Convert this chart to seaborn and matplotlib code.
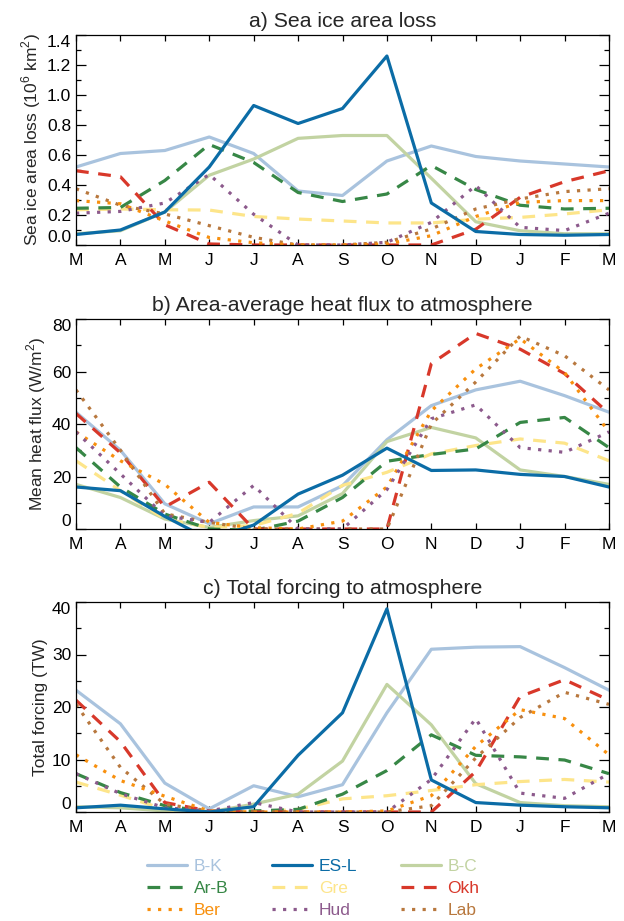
import matplotlib
matplotlib.use("Agg")
import matplotlib.pyplot as plt
from matplotlib.ticker import MultipleLocator
import seaborn as sns
import pandas as pd

months = ["M", "A", "M", "J", "J", "A", "S", "O", "N", "D", "J", "F", "M"]
regions = ["B-K", "ES-L", "B-C", "Ar-B", "Gre", "Okh", "Ber", "Hud", "Lab"]

# a) sea ice area loss (10^6 km^2)
ice_bk = [0.52, 0.61, 0.63, 0.72, 0.61, 0.36, 0.33, 0.56, 0.66, 0.59, 0.56, 0.54, 0.52]
ice_esl = [0.07, 0.10, 0.22, 0.52, 0.93, 0.81, 0.91, 1.26, 0.28, 0.09, 0.07, 0.065, 0.07]
ice_bc = [0.075, 0.095, 0.22, 0.465, 0.573, 0.711, 0.73, 0.73, 0.445, 0.155, 0.095, 0.075, 0.075]
ice_arb = [0.245, 0.25, 0.43, 0.67, 0.55, 0.35, 0.29, 0.34, 0.53, 0.37, 0.265, 0.24, 0.245]
ice_gre = [0.235, 0.24, 0.235, 0.233, 0.19, 0.173, 0.16, 0.147, 0.147, 0.172, 0.184, 0.207, 0.235]
ice_okh = [0.495, 0.455, 0.135, 0.007, 0.0, 0.0, 0.0, 0.0, 0.0, 0.105, 0.318, 0.422, 0.495]
ice_ber = [0.296, 0.275, 0.16, 0.05, 0.015, 0.0, 0.0, 0.007, 0.062, 0.19, 0.284, 0.296, 0.296]
ice_hud = [0.212, 0.224, 0.28, 0.47, 0.205, 0.0, 0.0, 0.018, 0.151, 0.396, 0.118, 0.096, 0.212]
ice_lab = [0.375, 0.265, 0.207, 0.129, 0.051, 0.0, 0.0, 0.018, 0.107, 0.24, 0.307, 0.356, 0.375]

# b) area-average heat flux (W/m^2)
flux_bk = [44.5, 30, 9.6, 2, 8.4, 8.4, 16.5, 34, 47, 53, 56.3, 50.8, 44.5]
flux_esl = [16, 14.6, 4.8, -4, 1.5, 13.3, 20.5, 30.8, 22.3, 22.5, 20.8, 20, 16]
flux_bc = [17, 12, 3.8, 0.6, 3.2, 5, 13.5, 33.3, 38.7, 34.7, 22.5, 20, 17]
flux_arb = [31, 16, 5.7, 0, -0.5, 3, 12, 25.8, 28.4, 30.5, 40.6, 42.5, 31]
flux_gre = [26, 14.6, 3.8, 0.6, 1.3, 6, 16.6, 21.6, 28.6, 31.8, 34.3, 32.7, 26]
flux_okh = [44, 29, 8.4, 17.8, 0, 0, 0, 0, 63, 74.5, 68.5, 59.2, 44]
flux_ber = [37, 26, 17, 2.5, 0.5, 0, 3, 16, 45, 61, 72.5, 59.6, 37]
flux_hud = [37, 21, 5, 2.5, 16.6, 0, 0, 15, 42, 47.3, 31, 29.2, 37]
flux_lab = [53, 30, 5.8, 2.5, 0, 0, 0, 0, 40, 56, 73.5, 66, 53]

# c) total forcing (TW)
force_bk = [23.2, 16.8, 5.5, 0.6, 5, 2.9, 5.2, 18.9, 31, 31.4, 31.5, 27.5, 23.2]
force_esl = [0.8, 1.3, 0.6, 0, 1.0, 10.8, 18.9, 38.7, 6.1, 1.8, 1.3, 1.0, 0.8]
force_bc = [1, 0.8, 0.2, 0, 1.5, 3.4, 9.7, 24.3, 16.6, 5.4, 1.8, 1.2, 1]
force_arb = [7.3, 3.7, 1.2, 0, 0.2, 0.5, 3.4, 7.9, 14.7, 10.8, 10.5, 9.9, 7.3]
force_gre = [5.7, 3.2, 0.5, 0, 0, 0.5, 2.5, 3.1, 4.1, 5.2, 5.8, 6.2, 5.7]
force_okh = [21.3, 13.4, 1.8, 0.2, 0, 0, 0, 0, 0, 7.7, 22, 25.2, 21.3]
force_ber = [10.9, 6, 3, 0.2, 0, 0, 0, 0.2, 3.1, 12.5, 19.5, 17.8, 10.9]
force_hud = [7.3, 3.5, 0.8, 0.2, 1.8, 0, 0, 0, 6.2, 17.8, 3.6, 2.6, 7.3]
force_lab = [20.5, 8.5, 1.5, 0.2, 0, 0, 0, 0, 1.2, 10.3, 18, 22.8, 20.5]

panels = [
    ("a) Sea ice area loss", r"Sea ice area loss (10$^\mathregular{6}$ km$^\mathregular{2}$)",
     [ice_bk, ice_esl, ice_bc, ice_arb, ice_gre, ice_okh, ice_ber, ice_hud, ice_lab],
     (0, 1.4), 0.2, 0.1, "{:.1f}"),
    ("b) Area-average heat flux to atmosphere", r"Mean heat flux (W/m$^\mathregular{2}$)",
     [flux_bk, flux_esl, flux_bc, flux_arb, flux_gre, flux_okh, flux_ber, flux_hud, flux_lab],
     (0, 80), 20, 10, "{:.0f}"),
    ("c) Total forcing to atmosphere", "Total forcing (TW)",
     [force_bk, force_esl, force_bc, force_arb, force_gre, force_okh, force_ber, force_hud, force_lab],
     (0, 40), 10, 5, "{:.0f}"),
]

colors = {
    "B-K": "#a9c3de", "ES-L": "#0b6ca6", "B-C": "#c2d3a2",
    "Ar-B": "#378746", "Gre": "#fde58a", "Okh": "#d8382a",
    "Ber": "#f8900e", "Hud": "#8c5a8c", "Lab": "#b8783e",
}
dashed = (0, (4, 3))
dotted = (0, (1, 2.3))
styles = {
    "B-K": "-", "ES-L": "-", "B-C": "-",
    "Ar-B": dashed, "Gre": dashed, "Okh": dashed,
    "Ber": dotted, "Hud": dotted, "Lab": dotted,
}
draw_order = ["B-K", "B-C", "Gre", "Ar-B", "Okh", "Lab", "Ber", "Hud", "ES-L"]

sns.set_style("ticks")
plt.rcParams["font.family"] = ["Liberation Sans", "DejaVu Sans"]
plt.rcParams["mathtext.fontset"] = "custom"
plt.rcParams["mathtext.rm"] = "Liberation Sans"

fig = plt.figure(figsize=(6.24, 9.21), dpi=100)
left, width = 76 / 624, 533 / 624
tops = [35, 319, 602]
h = 210

for (title, ylabel, series, ylim, major, minor, fmt), top in zip(panels, tops):
    ax = fig.add_axes([left, 1 - (top + h) / 921, width, h / 921])
    df = pd.DataFrame({"x": list(range(len(months))) * len(regions),
                       "y": sum(series, []),
                       "region": [r for r in regions for _ in months]})
    for name in draw_order:
        sub = df[df["region"] == name]
        sns.lineplot(data=sub, x="x", y="y", ax=ax, color=colors[name],
                     linestyle=styles[name], linewidth=2.3, label=name,
                     legend=False, errorbar=None)
    ax.set_xlim(0, 12)
    ax.set_ylim(*ylim)
    ax.set_xticks(range(len(months)))
    ax.set_xticklabels(months)
    ax.yaxis.set_major_locator(MultipleLocator(major))
    ax.yaxis.set_minor_locator(MultipleLocator(minor))
    ticks = [t for t in ax.get_yticks() if ylim[0] - 1e-9 <= t <= ylim[1] + 1e-9]
    ax.set_yticks(ticks)
    ax.set_yticklabels([fmt.format(t) for t in ticks])
    ylabs = ax.get_yticklabels()
    ylabs[0].set_verticalalignment("bottom")
    ylabs[-1].set_verticalalignment("top")
    ax.tick_params(axis="both", which="both", direction="in", top=True, right=True,
                   labelsize=12.5, colors="black", width=0.9)
    ax.tick_params(axis="y", which="major", length=7)
    ax.tick_params(axis="y", which="minor", length=3.5)
    ax.tick_params(axis="x", which="major", length=4, pad=6)
    ax.set_xlabel("")
    ax.set_ylabel(ylabel, fontsize=12.5, labelpad=3)
    ax.set_title(title, fontsize=15.3, pad=6)
    for sp in ax.spines.values():
        sp.set_linewidth(0.9)
        sp.set_color("black")

handles, labels = ax.get_legend_handles_labels()
hmap = dict(zip(labels, handles))
order = ["B-K", "Ar-B", "Ber", "ES-L", "Gre", "Hud", "B-C", "Okh", "Lab"]
fig.legend([hmap[n] for n in order], order, ncol=3, loc="upper left",
           bbox_to_anchor=(147 / 624, 1 - 859 / 921), frameon=False,
           labelcolor="linecolor", fontsize=12.5, handlelength=2.3,
           handletextpad=0.4, columnspacing=2.5, labelspacing=0.4,
           borderpad=0, borderaxespad=0)

fig.savefig("out.png", dpi=100)
